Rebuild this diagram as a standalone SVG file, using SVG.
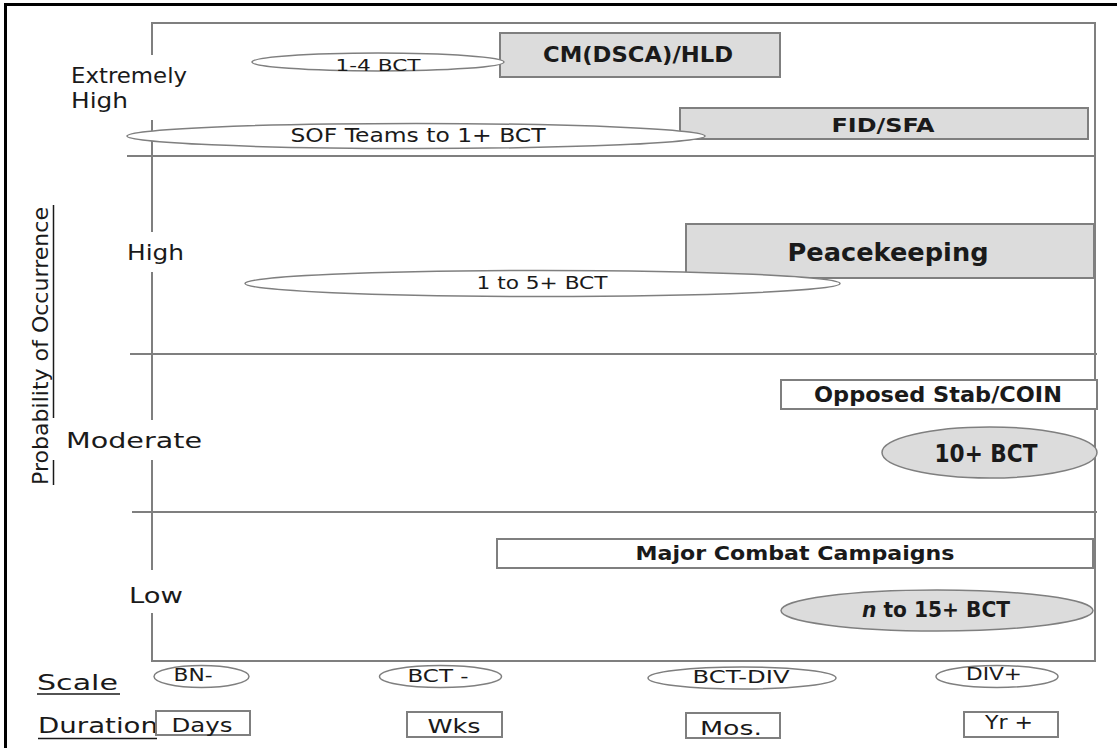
<svg xmlns="http://www.w3.org/2000/svg" width="1117" height="748" viewBox="0 0 1117 748">
<style>
.ln{stroke:#7f7f7f;stroke-width:2;fill:none}
.box{stroke:#7f7f7f;stroke-width:2;fill:#dcdcdc}
.wbox{stroke:#7f7f7f;stroke-width:2;fill:#ffffff}
.ov{stroke:#7f7f7f;stroke-width:1.5;fill:#ffffff}
.gov{stroke:#7f7f7f;stroke-width:1.5;fill:#dcdcdc}
text{font-family:"DejaVu Sans","Liberation Sans",sans-serif;fill:#1a1a1a}
.lab{font-size:22px}
.b{font-weight:bold}
.m{text-anchor:middle}
</style>
<rect width="1117" height="748" fill="#ffffff"/>
<g id="border">
<line x1="4" y1="4.5" x2="1117" y2="4.5" stroke="#000" stroke-width="3"/>
<line x1="5.5" y1="3" x2="5.5" y2="748" stroke="#000" stroke-width="3"/>
</g>
<g id="grid">
<polyline class="ln" points="152,55 152,23 1095,23 1095,661 152,661 152,613"/>
<line class="ln" x1="152" y1="120" x2="152" y2="232"/>
<line class="ln" x1="152" y1="272" x2="152" y2="420"/>
<line class="ln" x1="152" y1="460" x2="152" y2="570"/>
<line class="ln" x1="127" y1="156" x2="1095" y2="156"/>
<line class="ln" x1="130" y1="354" x2="1097" y2="354"/>
<line class="ln" x1="132" y1="512" x2="1097" y2="512"/>
</g>
<g id="axis-labels">
<text class="lab" x="71" y="83" textLength="116" lengthAdjust="spacingAndGlyphs">Extremely</text>
<text class="lab" x="71" y="108" textLength="57" lengthAdjust="spacingAndGlyphs">High</text>
<text class="lab" x="127" y="260" textLength="57" lengthAdjust="spacingAndGlyphs">High</text>
<text class="lab" x="66" y="448" textLength="136" lengthAdjust="spacingAndGlyphs">Moderate</text>
<text class="lab" x="129" y="603" textLength="54" lengthAdjust="spacingAndGlyphs">Low</text>
<text class="lab m" transform="translate(48,346) rotate(-90)" textLength="278" lengthAdjust="spacingAndGlyphs">Probability of Occurrence</text>
<line x1="53.5" y1="205" x2="53.5" y2="418" stroke="#1a1a1a" stroke-width="1.5"/>
<line x1="53.5" y1="460" x2="53.5" y2="485" stroke="#1a1a1a" stroke-width="1.5"/>
<text class="lab" x="37" y="690" textLength="81" lengthAdjust="spacingAndGlyphs">Scale</text>
<line x1="37" y1="694" x2="120" y2="694" stroke="#1a1a1a" stroke-width="1.5"/>
<text class="lab" x="38" y="733" textLength="120" lengthAdjust="spacingAndGlyphs">Duration</text>
<line x1="38" y1="738.5" x2="157" y2="738.5" stroke="#1a1a1a" stroke-width="1.5"/>
</g>
<g id="connectors"></g>
<g id="cm-dsca-hld">
<rect class="box" x="500" y="33" width="280" height="44"/>
<text class="b m" x="638" y="62" font-size="21" textLength="190" lengthAdjust="spacingAndGlyphs">CM(DSCA)/HLD</text>
</g>
<g id="bct-1-4">
<ellipse class="ov" cx="378" cy="62" rx="126" ry="9"/>
<text class="m" x="378" y="71" font-size="16" textLength="85" lengthAdjust="spacingAndGlyphs">1-4 BCT</text>
</g>
<g id="fid-sfa">
<rect class="box" x="680" y="108" width="408" height="31"/>
<text class="b m" x="883" y="132" font-size="20" textLength="103" lengthAdjust="spacingAndGlyphs">FID/SFA</text>
</g>
<g id="sof-teams">
<ellipse class="ov" cx="416" cy="136" rx="289" ry="12.5"/>
<text class="m" x="418" y="142" font-size="20" textLength="255" lengthAdjust="spacingAndGlyphs">SOF Teams to 1+ BCT</text>
</g>
<g id="peacekeeping">
<rect class="box" x="686" y="224" width="408" height="54"/>
<text class="b m" x="888" y="261" font-size="25" textLength="201" lengthAdjust="spacingAndGlyphs">Peacekeeping</text>
</g>
<g id="bct-1-5">
<ellipse class="ov" cx="542.5" cy="283.5" rx="297.5" ry="13"/>
<text class="m" x="542" y="289" font-size="18" textLength="131" lengthAdjust="spacingAndGlyphs">1 to 5+ BCT</text>
</g>
<g id="opposed-stab-coin">
<rect class="wbox" x="781" y="380" width="316" height="29"/>
<text class="b m" x="938" y="402" font-size="21" textLength="248" lengthAdjust="spacingAndGlyphs">Opposed Stab/COIN</text>
</g>
<g id="bct-10">
<ellipse class="gov" cx="989.5" cy="452.5" rx="107.5" ry="25.5"/>
<text class="b m" x="986" y="462" font-size="24" textLength="103" lengthAdjust="spacingAndGlyphs">10+ BCT</text>
</g>
<g id="major-combat">
<rect class="wbox" x="497" y="539" width="596" height="29"/>
<text class="b m" x="795" y="560" font-size="20" textLength="319" lengthAdjust="spacingAndGlyphs">Major Combat Campaigns</text>
</g>
<g id="bct-n-15">
<ellipse class="gov" cx="937" cy="610.5" rx="156" ry="20.5"/>
<text class="b m" x="936" y="617" font-size="22" textLength="148" lengthAdjust="spacingAndGlyphs"><tspan font-style="italic">n</tspan> to 15+ BCT</text>
</g>
<g id="scale-bn">
<ellipse class="ov" cx="201.5" cy="676.5" rx="47.5" ry="11"/>
<text class="m" x="193" y="681" font-size="17" textLength="39" lengthAdjust="spacingAndGlyphs">BN-</text>
</g>
<g id="scale-bct">
<ellipse class="ov" cx="440.5" cy="676.5" rx="61" ry="11"/>
<text class="m" x="438" y="682" font-size="17" textLength="61" lengthAdjust="spacingAndGlyphs">BCT -</text>
</g>
<g id="scale-bct-div">
<ellipse class="ov" cx="742" cy="678" rx="94" ry="11"/>
<text class="m" x="741" y="683" font-size="17" textLength="97" lengthAdjust="spacingAndGlyphs">BCT-DIV</text>
</g>
<g id="scale-div">
<ellipse class="ov" cx="997" cy="676.5" rx="61" ry="11"/>
<text class="m" x="994" y="680" font-size="17" textLength="56" lengthAdjust="spacingAndGlyphs">DIV+</text>
</g>
<g id="dur-days">
<rect class="wbox" x="156" y="711" width="94" height="24"/>
<text class="m" x="202" y="732" font-size="19" textLength="61" lengthAdjust="spacingAndGlyphs">Days</text>
</g>
<g id="dur-wks">
<rect class="wbox" x="407" y="712" width="95" height="25"/>
<text class="m" x="454" y="733" font-size="19" textLength="53" lengthAdjust="spacingAndGlyphs">Wks</text>
</g>
<g id="dur-mos">
<rect class="wbox" x="686" y="713" width="94" height="25"/>
<text class="m" x="731" y="735" font-size="19" textLength="62" lengthAdjust="spacingAndGlyphs">Mos.</text>
</g>
<g id="dur-yr">
<rect class="wbox" x="964" y="712" width="94" height="25"/>
<text class="m" x="1009" y="729" font-size="19" textLength="48" lengthAdjust="spacingAndGlyphs">Yr +</text>
</g>
</svg>
